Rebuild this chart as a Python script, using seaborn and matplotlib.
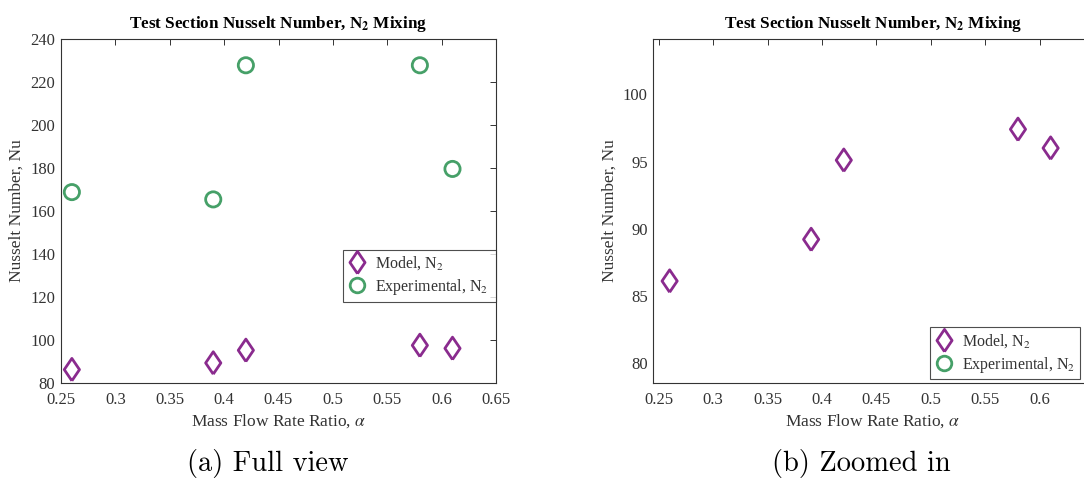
import numpy as np
import pandas as pd
import matplotlib
matplotlib.use("Agg")
import matplotlib.pyplot as plt
from matplotlib.lines import Line2D
import seaborn as sns

# Mass flow rate ratio and Nusselt numbers
alpha = [0.26, 0.39, 0.42, 0.58, 0.61]
nu_model = [86.1, 89.2, 95.1, 97.4, 96.0]
nu_experimental = [168.8, 165.4, 227.9, 227.9, 179.6]

full_xticks = [0.25, 0.3, 0.35, 0.4, 0.45, 0.5, 0.55, 0.6, 0.65]
zoom_xticks = [0.25, 0.3, 0.35, 0.4, 0.45, 0.5, 0.55, 0.6]
full_yticks = [80, 100, 120, 140, 160, 180, 200, 220, 240]
zoom_yticks = [80, 85, 90, 95, 100]

title = r"Test Section Nusselt Number, N$_\mathbf{2}$ Mixing"
xlabel = r"Mass Flow Rate Ratio, $\alpha$"
ylabel = "Nusselt Number, Nu"
label_model = r"Model, N$_2$"
label_exp = r"Experimental, N$_2$"
captions = ["(a) Full view", "(b) Zoomed in"]

sns.set_theme(style="white")
plt.rcParams["font.family"] = ["Liberation Serif", "DejaVu Serif"]
plt.rcParams["mathtext.fontset"] = "stix"

PURPLE = "#8A2B8E"
GREEN = "#46A068"
INK = "#333333"

# diamond a little wider than matplotlib's thin 'd'
DIAMOND = [(0, -1), (0.68, 0), (0, 1), (-0.68, 0), (0, -1)]

df = pd.DataFrame({"alpha": alpha, "model": nu_model, "exp": nu_experimental})

W, H = 1084, 479
fig = plt.figure(figsize=(W / 100, H / 100), dpi=100)


def px_axes(x0, y0, x1, y1):
    return fig.add_axes([x0 / W, 1 - y1 / H, (x1 - x0) / W, (y1 - y0) / H])


def fmt(v):
    return f"{v:g}"


def draw(ax, xlim, ylim, xticks, yticks, legend_box):
    sns.scatterplot(data=df, x="alpha", y="model", ax=ax, marker=DIAMOND, s=260,
                    facecolors="none", edgecolor=PURPLE, linewidth=2, zorder=3)
    sns.scatterplot(data=df, x="alpha", y="exp", ax=ax, marker="o", s=120,
                    facecolors="none", edgecolor=GREEN, linewidth=2, zorder=3)
    ax.set_xlim(*xlim)
    ax.set_ylim(*ylim)
    ax.set_xticks(xticks)
    ax.set_xticklabels([fmt(v) for v in xticks])
    ax.set_yticks(yticks)
    ax.set_yticklabels([fmt(v) for v in yticks])
    ax.tick_params(direction="in", length=4, width=0.7, colors=INK,
                   labelsize=12, top=True, right=True)
    ax.tick_params(axis="x", pad=7)
    ax.tick_params(axis="y", pad=4)
    for s in ax.spines.values():
        s.set_visible(True)
        s.set_color(INK)
        s.set_linewidth(0.8)
    ax.set_xlabel(xlabel, fontsize=12.5, color=INK, labelpad=3)
    ax.set_ylabel(ylabel, fontsize=12.5, color=INK, labelpad=4)
    ax.set_title(title, fontsize=12.3, fontweight="bold", color="black", pad=8)

    handles = [
        Line2D([], [], ls="none", marker=DIAMOND, markersize=16, mfc="none",
               mec=PURPLE, mew=2, label=label_model),
        Line2D([], [], ls="none", marker="o", markersize=10.5, mfc="none",
               mec=GREEN, mew=2, label=label_exp),
    ]
    x0, y0, x1, y1 = legend_box
    leg = ax.legend(handles=handles, loc="lower left",
                    bbox_to_anchor=(x0 / W, 1 - y1 / H, (x1 - x0) / W, (y1 - y0) / H),
                    bbox_transform=fig.transFigure, mode="expand",
                    borderaxespad=0, frameon=True, fancybox=False,
                    fontsize=11.5, handlelength=1.2, handletextpad=0.5,
                    borderpad=0.3, labelspacing=0.3)
    leg.get_frame().set_edgecolor("#222222")
    leg.get_frame().set_linewidth(0.8)
    for t in leg.get_texts():
        t.set_color(INK)


ax1 = px_axes(61, 39.3, 496, 382.7)
draw(ax1, (0.25, 0.65), (80, 240), full_xticks, full_yticks,
     (343, 245.7, 496, 301.7))

ax2 = px_axes(653.3, 39.3, 1092, 382.7)
draw(ax2, (0.245, 0.648), (78.53, 104.1), zoom_xticks, zoom_yticks,
     (930, 322.7, 1080, 379.3))

fig.text(268 / W, 1 - 463 / H, captions[0], family="cmr10", fontsize=20.5,
         ha="center", va="center", color="black")
fig.text(861 / W, 1 - 463 / H, captions[1], family="cmr10", fontsize=20.5,
         ha="center", va="center", color="black")

fig.savefig("out.png", dpi=100)
